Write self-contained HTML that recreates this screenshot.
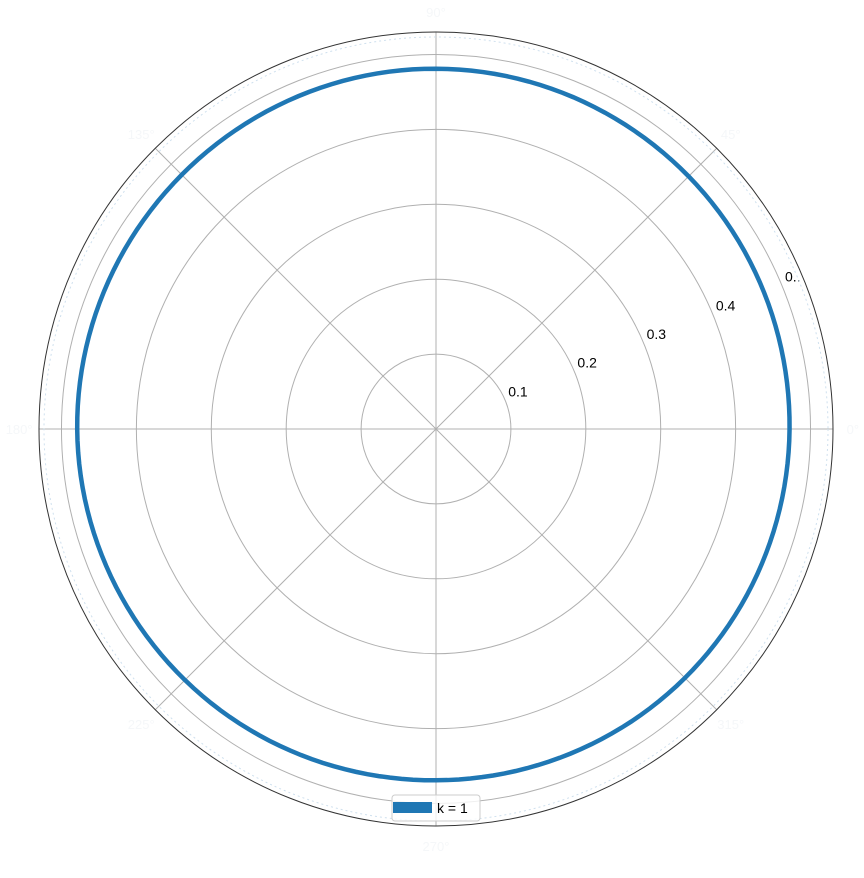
<!DOCTYPE html>
<html><head><meta charset="utf-8"><style>
body{margin:0;background:#fff;}
svg{display:block;font-family:"Liberation Sans","DejaVu Sans",sans-serif;}
</style></head><body>
<svg id="chart" width="864" height="878">
<g id="grid"></g>
<g id="series"></g>
<g id="legend">
<rect x="392" y="795" width="88" height="26" rx="3" fill="#fff" fill-opacity="0.8" stroke="#ccc"/>
<rect x="393" y="802" width="39" height="11" fill="#1f77b4"/>
<text x="437" y="813" font-size="14" fill="#000">k = 1</text>
</g>
</svg>
<script>
const rTicks=[0.1,0.2,0.3,0.4,0.5];
const rTickLabels=["0.1","0.2","0.3","0.4","0.."];
const thetaTicks=[0,45,90,135,180,225,270,315];
const thetaLabels=["0°","45°","90°","135°","180°","225°","270°","315°"];
const seriesTheta=[0,45,90,135,180,225,270,315];
const seriesR=[0.472,0.477,0.481,0.480,0.479,0.474,0.469,0.470];
const cx=436,cy=429,rmax=0.53,Rpx=397;
const ns="http://www.w3.org/2000/svg";
function rs(r){return r/rmax*Rpx;}
function pt(t,r){const a=t*Math.PI/180;return [cx+rs(r)*Math.cos(a),cy-rs(r)*Math.sin(a)];}
const grid=document.getElementById('grid');
function mk(tag,attrs,parent){const e=document.createElementNS(ns,tag);for(const k in attrs)e.setAttribute(k,attrs[k]);parent.appendChild(e);return e;}
rTicks.forEach((r,i)=>{
 const c=mk('circle',{cx:cx,cy:cy,r:rs(r),fill:'none',stroke:'#b0b0b0','stroke-width':1},grid);
 
 
 const p=pt(22.5,r);
 const t=mk('text',{x:p[0]+3,y:p[1]-4,'font-size':14,fill:'#000'},grid);
 t.textContent=rTickLabels[i];
 
 
});
thetaTicks.forEach((th,i)=>{
 const p=pt(th,rmax);
 const l=mk('line',{x1:cx,y1:cy,x2:p[0],y2:p[1],stroke:'#b0b0b0','stroke-width':1},grid);
 
 
 const q=pt(th,rmax*1.05);
 const t=mk('text',{x:q[0],y:q[1]+5,'font-size':13,fill:'#f5f7f9','text-anchor':'middle'},grid);
 t.textContent=thetaLabels[i];
 
 
});
const dot=mk('circle',{cx:cx,cy:cy,r:Rpx-5,fill:'none',stroke:'#cfe0ee','stroke-width':1,'stroke-dasharray':'2,3'},grid);


const frame=mk('circle',{cx:cx,cy:cy,r:Rpx,fill:'none',stroke:'#333','stroke-width':1},grid);


const n=seriesTheta.length;let d='';
for(let i=0;i<n;i++){
 const t0=seriesTheta[i],t1=(i+1<n)?seriesTheta[i+1]:seriesTheta[0]+360;
 const r0=seriesR[(i-1+n)%n],r1=seriesR[i],r2=seriesR[(i+1)%n],r3=seriesR[(i+2)%n];
 for(let s=0;s<24;s++){
  const u=s/24;
  const r=0.5*((2*r1)+(-r0+r2)*u+(2*r0-5*r1+4*r2-r3)*u*u+(-r0+3*r1-3*r2+r3)*u*u*u);
  const p=pt(t0+(t1-t0)*u,r);
  d+=(d?'L':'M')+p[0].toFixed(2)+','+p[1].toFixed(2);
 }
}
d+='Z';
const path=mk('path',{d:d,fill:'none',stroke:'#1f77b4','stroke-width':4.5},document.getElementById('series'));


</script>
</body></html>
